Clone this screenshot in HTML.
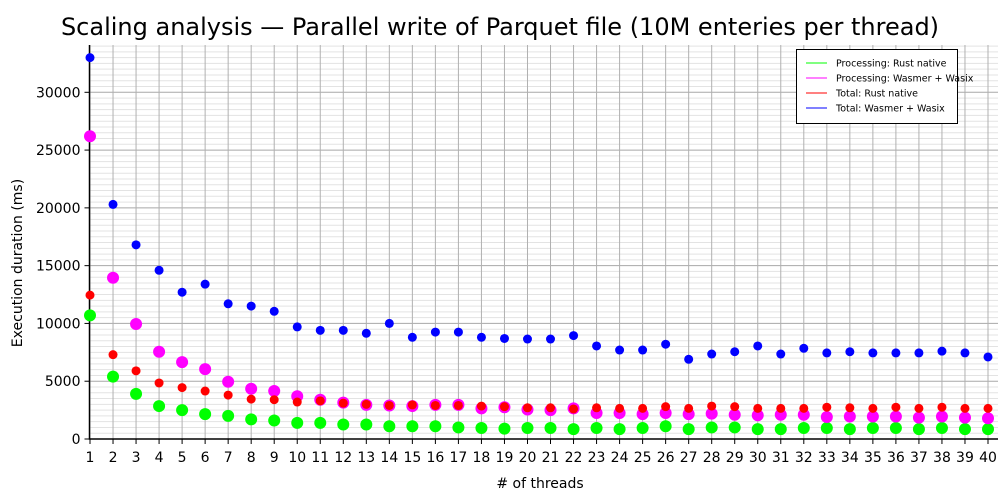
<!DOCTYPE html>
<html><head><meta charset="utf-8"><style>
body{margin:0;background:#fff}
svg{display:block;font-family:"DejaVu Sans","Liberation Sans",sans-serif}
</style></head><body>
<svg id="chart" width="1000" height="500">
<text x="500" y="35" text-anchor="middle" font-size="24">Scaling analysis — Parallel write of Parquet file (10M enteries per thread)</text>
<g id="grid"></g><g id="axes"></g><g id="marks"></g>
<text x="540" y="488" text-anchor="middle" font-size="14"># of threads</text>
<text transform="translate(22,263) rotate(-90)" text-anchor="middle" font-size="14">Execution duration (ms)</text>
<g>
<rect x="796.5" y="49.5" width="161" height="74" fill="#fff" stroke="#000"/>
<line x1="806" x2="827" y1="63" y2="63" stroke="#00ff00"/><text x="836" y="66.5" font-size="9.5">Processing: Rust native</text>
<line x1="806" x2="827" y1="78" y2="78" stroke="#ff00ff"/><text x="836" y="81.5" font-size="9.5">Processing: Wasmer + Wasix</text>
<line x1="806" x2="827" y1="93" y2="93" stroke="#ff0000"/><text x="836" y="96.5" font-size="9.5">Total: Rust native</text>
<line x1="806" x2="827" y1="108" y2="108" stroke="#0000ff"/><text x="836" y="111.5" font-size="9.5">Total: Wasmer + Wasix</text>
</g>
</svg>
<script>
const threads=[];for(let i=1;i<=40;i++)threads.push(i);
const totalWasmer=[33000,20300,16800,14600,12700,13400,11700,11500,11050,9700,9400,9400,9150,10000,8800,9250,9250,8800,8700,8650,8650,8950,8050,7700,7700,8200,6900,7350,7550,8050,7350,7850,7450,7550,7450,7450,7450,7600,7450,7100];
const procWasmer=[26200,13950,9950,7550,6650,6050,4950,4350,4150,3700,3400,3150,2950,2900,2850,2950,2950,2650,2750,2550,2500,2650,2250,2250,2150,2250,2150,2200,2100,2050,2100,2100,1900,1950,1950,1950,1850,1950,1850,1800];
const totalRust=[12450,7300,5900,4850,4450,4150,3800,3450,3400,3200,3300,3100,3000,2900,2950,2900,2900,2850,2800,2700,2700,2600,2700,2650,2650,2800,2650,2850,2800,2650,2650,2650,2750,2700,2650,2750,2650,2750,2650,2650];
const procRust=[10700,5400,3900,2850,2500,2150,2000,1700,1600,1400,1400,1250,1250,1100,1100,1100,1000,950,900,950,950,850,950,850,950,1100,850,1000,1000,850,850,950,950,850,950,950,850,950,850,850];
const yTicks=[0,5000,10000,15000,20000,25000,30000];
const NS="http://www.w3.org/2000/svg";
const X0=90,X1=988,Y0=439,YT=92.3,LEFT=89.5,RIGHT=998,TOP=45;
const xs=v=>X0+(v-1)*(X1-X0)/39;
const ys=v=>Y0-v*(Y0-YT)/30000;
function mk(t,a,p){const e=document.createElementNS(NS,t);for(const k in a)e.setAttribute(k,a[k]);p.appendChild(e);return e;}
const grid=document.getElementById('grid'),axes=document.getElementById('axes'),marks=document.getElementById('marks');
for(let v=500;ys(v)>TOP;v+=500){
 if(v%5000===0)continue;
 const l=mk('line',{x1:LEFT,x2:RIGHT,y1:ys(v),y2:ys(v),stroke:'#e3e3e3','stroke-width':1},grid);
 
 
}
yTicks.forEach(v=>{
 if(v>0){const l=mk('line',{x1:LEFT,x2:RIGHT,y1:ys(v),y2:ys(v),stroke:'#a8a8a8','stroke-width':1},grid);
 
 }
 const tk=mk('line',{x1:LEFT-5,x2:LEFT,y1:ys(v),y2:ys(v),stroke:'#000'},axes);
 
 
 const t=mk('text',{x:LEFT-9,y:ys(v)+5,'text-anchor':'end','font-size':14},axes);t.textContent=v;
 
 
});
threads.forEach(n=>{
 const l=mk('line',{x1:xs(n),x2:xs(n),y1:TOP,y2:Y0,stroke:'#b0b0b0','stroke-width':1},grid);
 
 
 const tk=mk('line',{x1:xs(n),x2:xs(n),y1:Y0,y2:Y0+5,stroke:'#000'},axes);
 
 
 const t=mk('text',{x:xs(n),y:Y0+23,'text-anchor':'middle','font-size':14},axes);t.textContent=n;
 
 
});
const ax=mk('path',{d:`M${LEFT},${TOP}V${Y0}H${RIGHT}`,fill:'none',stroke:'#000','stroke-width':1.5},axes);


const series=[[procRust,'#00ff00',6,'point-processing-rust'],[procWasmer,'#ff00ff',6,'point-processing-wasmer'],[totalRust,'#ff0000',4.5,'point-total-rust'],[totalWasmer,'#0000ff',4.5,'point-total-wasmer']];
series.forEach(([arr,col,r,name])=>{
 arr.forEach((v,i)=>{
  const c=mk('circle',{cx:xs(threads[i]),cy:ys(v),r:r,fill:col},marks);
  
  
 });
});
</script>
</body></html>
